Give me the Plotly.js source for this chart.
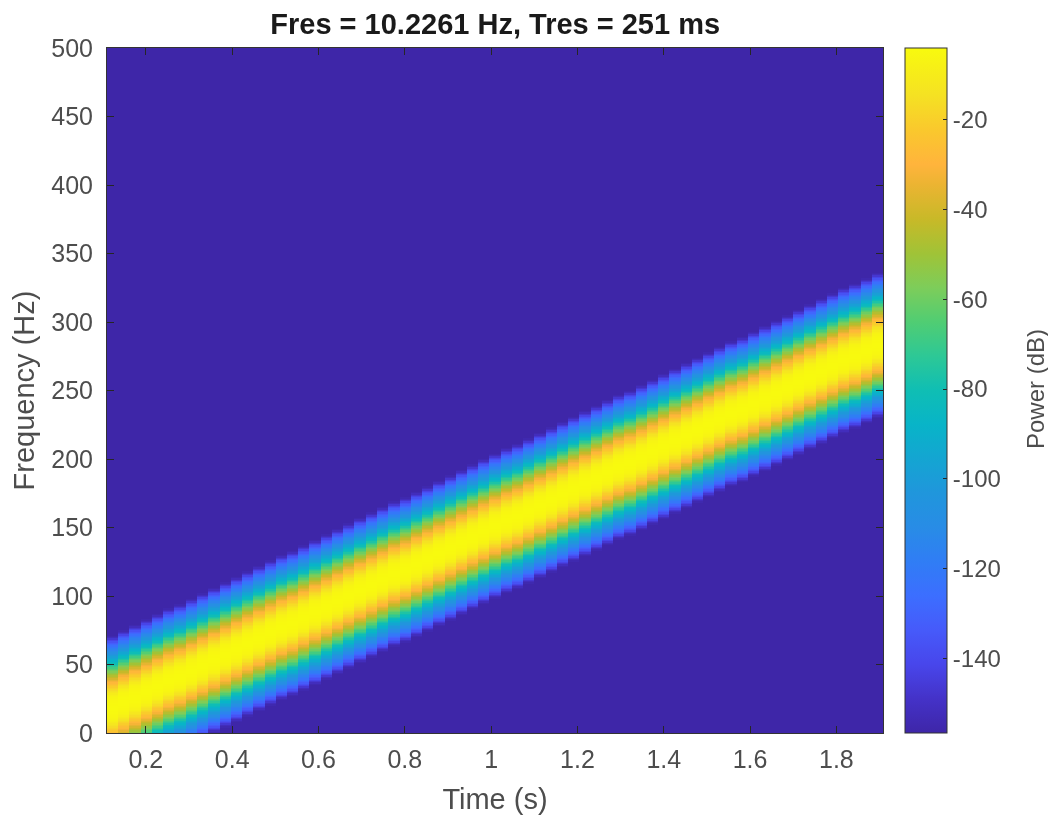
<!DOCTYPE html>
<html>
<head>
<meta charset="utf-8">
<script src="https://cdn.plot.ly/plotly-3.0.1.min.js"></script>
<style>html,body{margin:0;padding:0;background:#fff}#chart{filter:blur(0.5px)}</style>
</head>
<body>
<div id="chart" style="width:1048px;height:816px"></div>
<script>
var chartTitle = "Fres = 10.2261 Hz, Tres = 251 ms";
var xLabel = "Time (s)";
var yLabel = "Frequency (Hz)";
var barLabel = "Power (dB)";
var xTicks = [0.2,0.4,0.6,0.8,1,1.2,1.4,1.6,1.8];
var xTickText = ["0.2","0.4","0.6","0.8","1","1.2","1.4","1.6","1.8"];
var yTicks = [0,50,100,150,200,250,300,350,400,450,500];
var barTicks = [-140,-120,-100,-80,-60,-40,-20];
var frameTimes = [0.123,0.149,0.175,0.201,0.227,0.253,0.279,0.305,0.331,0.358,0.384,0.410,0.436,0.462,0.488,0.514,0.540,0.566,0.592,0.618,0.644,0.670,0.696,0.722,0.748,0.775,0.801,0.827,0.853,0.879,0.905,0.931,0.957,0.983,1.009,1.035,1.061,1.087,1.113,1.139,1.165,1.191,1.217,1.244,1.270,1.296,1.322,1.348,1.374,1.400,1.426,1.452,1.478,1.504,1.530,1.556,1.582,1.608,1.634,1.661,1.687,1.713,1.739,1.765,1.791,1.817,1.843,1.869,1.895];
var ridgeHz = [18,22,26,30,34,38,41,45,49,53,57,61,65,69,73,77,80,84,88,92,96,100,104,108,112,116,119,123,127,131,135,139,143,147,151,155,158,162,166,170,174,178,182,186,190,194,197,201,205,209,213,217,221,225,229,233,236,240,244,248,252,256,260,264,268,272,275,279,283];
var powerByOffset = [-4,-4,-4.1,-4.2,-4.4,-4.7,-5.1,-5.6,-6.2,-7,-8.4,-10,-12,-14,-16.3,-18.7,-21,-23.5,-26,-28.5,-32,-35.5,-39,-42.5,-46,-49.5,-53,-56.5,-60,-64,-68,-72,-76.5,-81,-85,-88,-91.5,-95,-98.5,-102,-105,-108.5,-112,-115,-118,-121,-125,-129,-133,-137,-142,-147,-152,-155,-156.7];
var floorDb = -156.7, topDb = -3.95, rowCount = 500;
var parula = [[0,"rgb(62,38,168)"],[0.05,"rgb(68,50,200)"],[0.10,"rgb(72,70,235)"],[0.15,"rgb(70,90,250)"],[0.20,"rgb(60,110,255)"],[0.25,"rgb(48,125,245)"],[0.30,"rgb(40,140,230)"],[0.35,"rgb(32,150,220)"],[0.40,"rgb(20,165,210)"],[0.45,"rgb(8,180,200)"],[0.50,"rgb(15,190,180)"],[0.55,"rgb(45,200,150)"],[0.60,"rgb(80,205,115)"],[0.65,"rgb(125,205,90)"],[0.70,"rgb(160,195,55)"],[0.75,"rgb(200,185,40)"],[0.80,"rgb(235,180,50)"],[0.83,"rgb(255,180,60)"],[0.88,"rgb(250,200,45)"],[0.93,"rgb(245,225,35)"],[1,"rgb(248,250,14)"]];

var z = [];
for (var j = 0; j < rowCount; j++) {
  var row = [];
  for (var k = 0; k < frameTimes.length; k++) {
    var off = Math.round(Math.abs(j + 0.5 - ridgeHz[k]));
    row.push(off < powerByOffset.length ? powerByOffset[off] : floorDb);
  }
  z.push(row);
}
var ink = "#4d4d4d", fontFam = '"Liberation Sans", Arial, sans-serif';
var trace = {
  type: "heatmap", x: frameTimes, y0: 0.5, dy: 1, z: z,
  colorscale: parula, zmin: floorDb, zmax: topDb, zsmooth: false, hoverinfo: "skip",
  colorbar: {
    x: (905-107)/776, xanchor: "left", xpad: 0, y: 0, yanchor: "bottom", ypad: 0,
    len: 1, lenmode: "fraction", thickness: 42, thicknessmode: "pixels",
    tickmode: "array", tickvals: barTicks, ticktext: barTicks.map(String),
    ticks: "inside", ticklen: 4, tickwidth: 1, tickcolor: "#262626",
    outlinecolor: "#333", outlinewidth: 1, tickfont: {family: fontFam, size: 24, color: ink}
  }
};
var axisCommon = {
  showgrid: false, zeroline: false, showline: true, linecolor: "#333", linewidth: 1,
  mirror: "ticks", ticks: "inside", ticklen: 7, tickwidth: 1, tickcolor: "#262626",
  tickfont: {family: fontFam, size: 25, color: ink}, automargin: false
};
var layout = {
  width: 1048, height: 816, paper_bgcolor: "#fff", plot_bgcolor: "#fff",
  margin: {l: 107, r: 165, t: 48, b: 83},
  title: {text: "<b>" + chartTitle + "</b>", x: 0.4725, xanchor: "center", y: 1 - 24/816, yanchor: "middle",
          font: {family: fontFam, size: 29, color: "#1a1a1a"}},
  xaxis: Object.assign({}, axisCommon, {range: [0.11, 1.908], tickmode: "array", tickvals: xTicks, ticktext: xTickText, ticklabelstandoff: 4,
          title: {text: xLabel, standoff: 16, font: {family: fontFam, size: 29, color: ink}}}),
  yaxis: Object.assign({}, axisCommon, {range: [0, 500], tickmode: "array", tickvals: yTicks, ticktext: yTicks.map(String), ticklabelstandoff: 8,
          title: {text: yLabel, standoff: 8, font: {family: fontFam, size: 29, color: ink}}}),
  annotations: [{text: barLabel, xref: "paper", yref: "paper", x: (1035-107)/776, y: (733-389)/685, xanchor: "center", yanchor: "middle",
                 textangle: -90, showarrow: false, font: {family: fontFam, size: 24, color: ink}}]
};
Plotly.newPlot("chart", [trace], layout, {displayModeBar: false, responsive: false});
</script>
</body>
</html>
